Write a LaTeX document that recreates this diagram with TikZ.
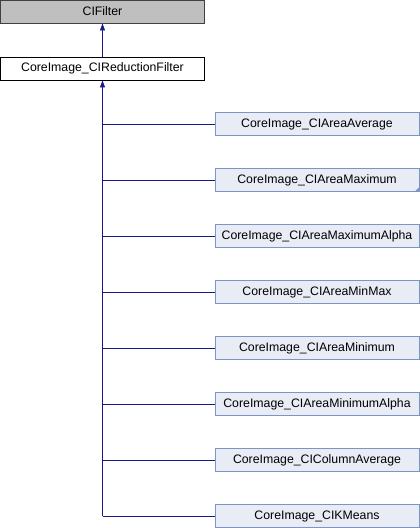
\documentclass[tikz,border=0pt]{standalone}
\usepackage{fontspec}
\setmainfont{Liberation Sans}
\usetikzlibrary{arrows.meta}
\definecolor{edgeblue}{RGB}{25,25,140}
\definecolor{childfill}{RGB}{232,236,245}
\definecolor{childdraw}{RGB}{124,148,198}
\definecolor{grayfill}{RGB}{191,191,191}
\begin{document}
\begin{tikzpicture}[x=1pt,y=-1pt,
  box/.style={draw, line width=0.9pt, minimum width=204pt, minimum height=23pt, inner sep=0pt, font=\fontsize{12.3}{14}\selectfont},
  parentbox/.style={box, fill=grayfill, draw=black!75},
  basebox/.style={box, fill=white, draw=black},
  childbox/.style={box, fill=childfill, draw=childdraw},
  edge/.style={draw=edgeblue, line width=0.9pt},
  tip/.style={-{Triangle[length=7pt,width=5pt]}}]
\useasboundingbox (0,0) rectangle (420,528);
\node[parentbox] (cif) at (102.5,11.5) {CIFilter};
\node[basebox] (red) at (102.5,68.5) {CoreImage\_CIReductionFilter};
\draw[edge,tip] (red.north) -- (cif.south);
\node[childbox] (c1) at (317,124) {CoreImage\_CIAreaAverage};
\node[childbox] (c2) at (317,180) {CoreImage\_CIAreaMaximum};
\node[childbox] (c3) at (317,236) {CoreImage\_CIAreaMaximumAlpha};
\node[childbox] (c4) at (317,292) {CoreImage\_CIAreaMinMax};
\node[childbox] (c5) at (317,348) {CoreImage\_CIAreaMinimum};
\node[childbox] (c6) at (317,404) {CoreImage\_CIAreaMinimumAlpha};
\node[childbox] (c7) at (317,460) {CoreImage\_CIColumnAverage};
\node[childbox] (c8) at (317,516) {CoreImage\_CIKMeans};
\fill[childdraw] (c2.south east) -- ++(-5,0) -- ++(5,-5) -- cycle;
\coordinate (trunk) at (red.south |- c8.west);
\draw[edge,tip] (trunk) -- (red.south);
\foreach \c in {c1,c2,c3,c4,c5,c6,c7,c8}{
  \draw[edge] (red.south |- \c.west) -- (\c.west);
}
\end{tikzpicture}
\end{document}
